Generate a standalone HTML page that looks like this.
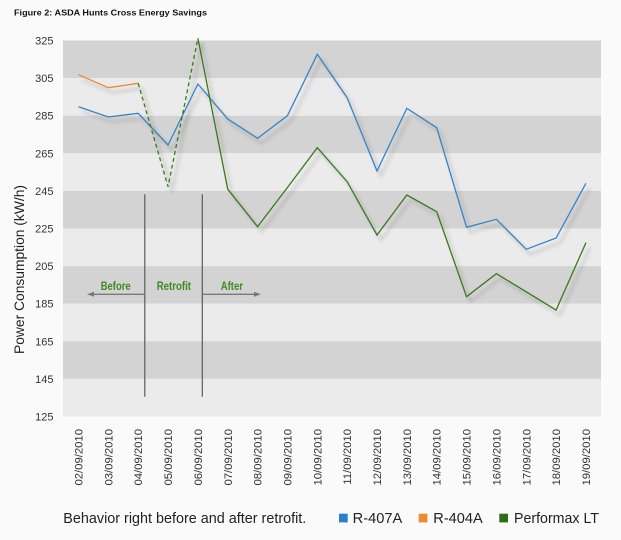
<!DOCTYPE html>
<html>
<head>
<meta charset="utf-8">
<style>
html,body{margin:0;padding:0;background:#fafafa;}
svg{display:block;}
text{font-family:"Liberation Sans",Arial,sans-serif;}
</style>
</head>
<body>
<svg width="621" height="540" viewBox="0 0 621 540" xmlns="http://www.w3.org/2000/svg">
<defs>
<filter id="blur" x="-10%" y="-10%" width="120%" height="120%"><feGaussianBlur stdDeviation="1.6"/></filter>
</defs>
<rect x="0" y="0" width="621" height="540" fill="#fafafa"/>
<text x="14" y="15.7" font-size="8.6" font-weight="bold" fill="#111" textLength="193" lengthAdjust="spacingAndGlyphs">Figure 2: ASDA Hunts Cross Energy Savings</text>

<!-- bands -->
<rect x="63" y="40.5" width="538" height="37.6" fill="#d3d3d3"/>
<rect x="63" y="78.1" width="538" height="37.6" fill="#ebebeb"/>
<rect x="63" y="115.7" width="538" height="37.6" fill="#d3d3d3"/>
<rect x="63" y="153.3" width="538" height="37.6" fill="#ebebeb"/>
<rect x="63" y="190.9" width="538" height="37.6" fill="#d3d3d3"/>
<rect x="63" y="228.5" width="538" height="37.6" fill="#ebebeb"/>
<rect x="63" y="266.1" width="538" height="37.6" fill="#d3d3d3"/>
<rect x="63" y="303.7" width="538" height="37.6" fill="#ebebeb"/>
<rect x="63" y="341.3" width="538" height="37.6" fill="#d3d3d3"/>
<rect x="63" y="378.9" width="538" height="37.6" fill="#ebebeb"/>

<!-- y ticks -->
<g font-size="11" fill="#333" text-anchor="end">
<text x="53.5" y="44.5">325</text>
<text x="53.5" y="82.1">305</text>
<text x="53.5" y="119.7">285</text>
<text x="53.5" y="157.3">265</text>
<text x="53.5" y="194.9">245</text>
<text x="53.5" y="232.5">225</text>
<text x="53.5" y="270.1">205</text>
<text x="53.5" y="307.7">185</text>
<text x="53.5" y="345.3">165</text>
<text x="53.5" y="382.9">145</text>
<text x="53.5" y="420.5">125</text>
</g>

<text transform="translate(24,269.5) rotate(-90)" font-size="14" fill="#222" text-anchor="middle" textLength="169" lengthAdjust="spacingAndGlyphs">Power Consumption (kW/h)</text>

<!-- vertical markers & arrows -->
<g stroke="#5a5a5a" stroke-width="1.2" fill="none">
<line x1="144.8" y1="194.3" x2="144.8" y2="396.7"/>
<line x1="202.3" y1="194.3" x2="202.3" y2="396.7"/>
</g>
<g stroke="#7a7a7a" stroke-width="1.3">
<line x1="92" y1="294.3" x2="144.8" y2="294.3"/>
<line x1="202.3" y1="294.3" x2="255" y2="294.3"/>
</g>
<polygon points="87,294.3 94,291.8 94,296.8" fill="#7a7a7a"/>
<polygon points="261,294.3 254,291.8 254,296.8" fill="#7a7a7a"/>
<g font-family="'Liberation Sans Narrow','Liberation Sans',sans-serif" font-weight="bold" font-size="11.5" fill="#3f8a1f">
<text x="100.7" y="290" textLength="30" lengthAdjust="spacingAndGlyphs">Before</text>
<text x="156.7" y="290" textLength="34.3" lengthAdjust="spacingAndGlyphs">Retrofit</text>
<text x="220.7" y="290" textLength="22.3" lengthAdjust="spacingAndGlyphs">After</text>
</g>

<!-- shadows -->
<g transform="translate(4,5)" fill="none" stroke="rgba(0,0,0,0.09)" stroke-width="3.5" filter="url(#blur)" stroke-linejoin="round">
<polyline points="78.5,106.7 108.35,117 138.2,113.3 168.05,145 197.9,84 227.75,119 257.6,138.3 287.45,115.7 317.3,54.3 347.15,97.7 377,171 406.85,108.3 436.7,127.7 466.55,227.3 496.4,219.3 526.25,249.3 556.1,238 585.95,183.3"/>
<polyline points="78.5,74.7 108.35,87.7 138.2,83.3"/>
<polyline points="197.9,38.3 227.75,189.2 257.6,226.7 287.45,187.5 317.3,147.7 347.15,181.7 377,235 406.85,195 436.7,211.7 466.55,296.7 496.4,273.7 526.25,291.8 556.1,310 585.95,242.7"/>
<polyline points="138.2,83.3 168.05,186.7 197.9,38.3"/>
</g>

<!-- series -->
<g fill="none" stroke-width="1.3" stroke-linejoin="miter">
<polyline stroke="#3585c6" points="78.5,106.7 108.35,117 138.2,113.3 168.05,145 197.9,84 227.75,119 257.6,138.3 287.45,115.7 317.3,54.3 347.15,97.7 377,171 406.85,108.3 436.7,127.7 466.55,227.3 496.4,219.3 526.25,249.3 556.1,238 585.95,183.3"/>
<polyline stroke="#e98b35" points="78.5,74.7 108.35,87.7 138.2,83.3"/>
<polyline stroke="#3a7a1c" stroke-dasharray="4,3" points="138.2,83.3 168.05,186.7 197.9,38.3"/>
<polyline stroke="#3a7a1c" points="197.9,38.3 227.75,189.2 257.6,226.7 287.45,187.5 317.3,147.7 347.15,181.7 377,235 406.85,195 436.7,211.7 466.55,296.7 496.4,273.7 526.25,291.8 556.1,310 585.95,242.7"/>
</g>

<!-- x labels -->
<g font-size="11.3" fill="#333" text-anchor="end">
<text transform="translate(82.5,429) rotate(-90)">02/09/2010</text>
<text transform="translate(112.35,429) rotate(-90)">03/09/2010</text>
<text transform="translate(142.2,429) rotate(-90)">04/09/2010</text>
<text transform="translate(172.05,429) rotate(-90)">05/09/2010</text>
<text transform="translate(201.9,429) rotate(-90)">06/09/2010</text>
<text transform="translate(231.75,429) rotate(-90)">07/09/2010</text>
<text transform="translate(261.6,429) rotate(-90)">08/09/2010</text>
<text transform="translate(291.45,429) rotate(-90)">09/09/2010</text>
<text transform="translate(321.3,429) rotate(-90)">10/09/2010</text>
<text transform="translate(351.15,429) rotate(-90)">11/09/2010</text>
<text transform="translate(381,429) rotate(-90)">12/09/2010</text>
<text transform="translate(410.85,429) rotate(-90)">13/09/2010</text>
<text transform="translate(440.7,429) rotate(-90)">14/09/2010</text>
<text transform="translate(470.55,429) rotate(-90)">15/09/2010</text>
<text transform="translate(500.4,429) rotate(-90)">16/09/2010</text>
<text transform="translate(530.25,429) rotate(-90)">17/09/2010</text>
<text transform="translate(560.1,429) rotate(-90)">18/09/2010</text>
<text transform="translate(589.95,429) rotate(-90)">19/09/2010</text>
</g>

<!-- legend -->
<g font-size="14.5" fill="#222">
<text x="63.3" y="523" textLength="243" lengthAdjust="spacingAndGlyphs">Behavior right before and after retrofit.</text>
<rect x="339" y="513.7" width="8.7" height="8.7" fill="#2a7fc9"/>
<text x="352.7" y="523" textLength="49.6" lengthAdjust="spacingAndGlyphs">R-407A</text>
<rect x="418.7" y="513.7" width="8.7" height="8.7" fill="#f08a2e"/>
<text x="433.3" y="523" textLength="49.4" lengthAdjust="spacingAndGlyphs">R-404A</text>
<rect x="499.3" y="513.7" width="8.7" height="8.7" fill="#2c6d19"/>
<text x="514" y="523" textLength="85" lengthAdjust="spacingAndGlyphs">Performax LT</text>
</g>
</svg>
</body>
</html>
